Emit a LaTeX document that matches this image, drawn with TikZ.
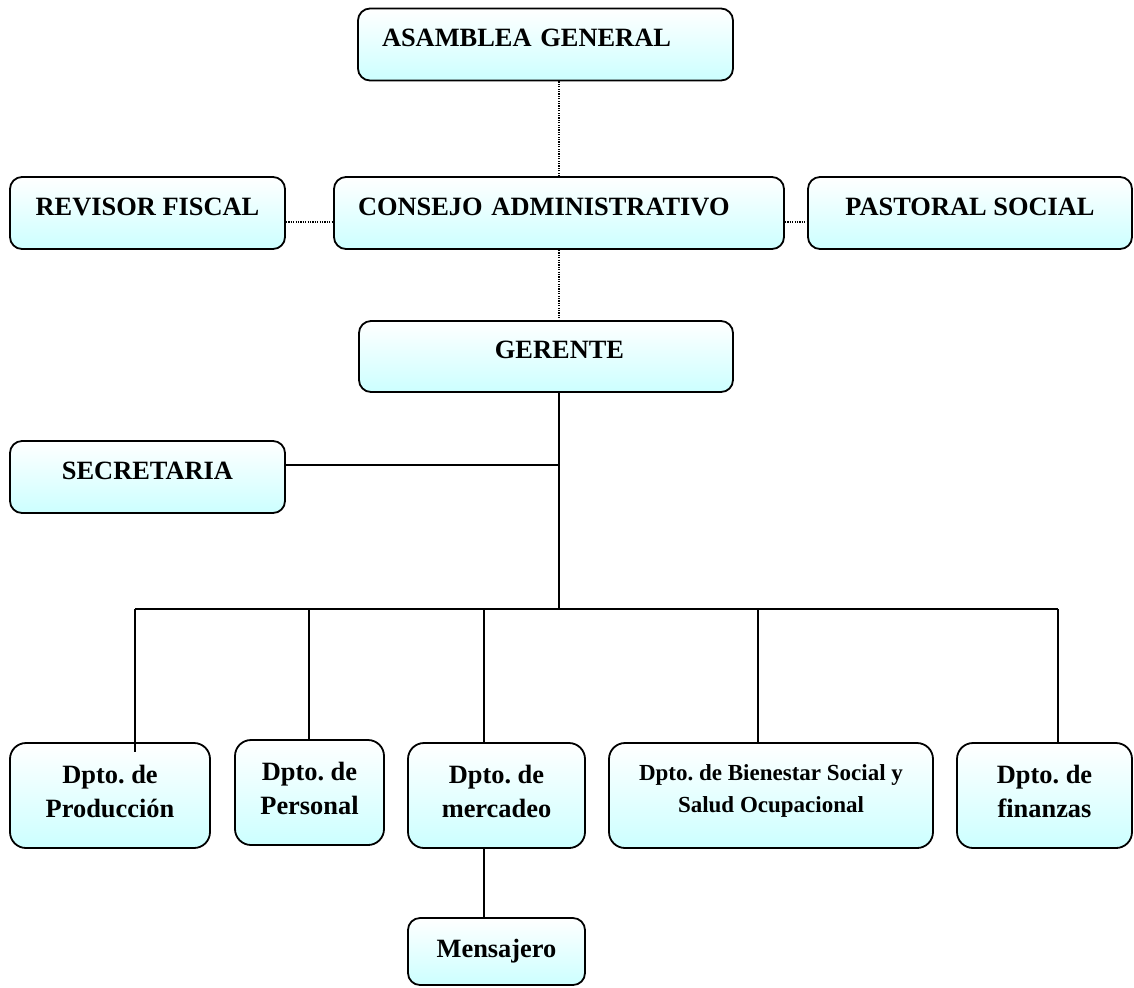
\documentclass[tikz,border=0pt]{standalone}
\usepackage{fontspec}
\setmainfont{Liberation Serif}
\usepackage{tikz}
\usepackage{xcolor}
\definecolor{boxcyan}{RGB}{204,255,255}
\def\busy{609}
\frenchspacing

\begin{document}
\begin{tikzpicture}[x=0.5pt,y=-0.5pt,line width=0.75pt]
    \tikzstyle{box}=[draw=black,line width=0.9pt,rounded corners=6pt,top color=white,bottom color=boxcyan,inner sep=0pt,align=center,font=\bfseries\fontsize{13.2pt}{17pt}\selectfont]
    \tikzstyle{title box}=[box,minimum height=36pt,text depth=6.5pt]
    \tikzstyle{dept box}=[box,rounded corners=8pt,minimum height=52.5pt,text depth=4.5pt]
    \tikzstyle{dots}=[dash pattern=on 0.6pt off 0.6pt]

    \useasboundingbox (0,0) rectangle (1134,987);

    % Draw the board and the top boxes
    \node[title box,minimum width=187.5pt,text width=163.5pt,align=left] (asm) at (545.5,44.5) {ASAMBLEA GENERAL};
    \node[title box,minimum width=225pt,text width=201pt,align=left] (con) at (559,213) {CONSEJO ADMINISTRATIVO};
    \node[title box,minimum width=137.5pt] (rev) at (147.5,213) {REVISOR FISCAL};
    \node[title box,minimum width=162pt] (pas) at (970,213) {PASTORAL SOCIAL};
    \node[title box,minimum width=187pt,minimum height=35.5pt] (ger) at (546,356.5) {\hspace*{13.5pt}GERENTE};
    \node[title box,minimum width=137.5pt] (sec) at (147.5,477) {SECRETARIA};

    % Draw the departments
    \node[dept box,minimum width=100pt] (pro) at (110,795.5) {Dpto. de\\Producción};
    \node[dept box,minimum width=74.5pt] (per) at (309.5,792.5) {Dpto. de\\Personal};
    \node[dept box,minimum width=88.5pt] (mer) at (496.5,795.5) {Dpto. de\\mercadeo};
    \node[dept box,minimum width=162pt,font=\bfseries\fontsize{11.5pt}{16.5pt}\selectfont,text depth=7pt] (bie) at (771,795.5) {Dpto. de Bienestar Social y\\Salud Ocupacional};
    \node[dept box,minimum width=87.5pt] (fin) at (1044.5,795.5) {Dpto. de\\finanzas};
    \node[title box,minimum width=88.5pt,minimum height=33.5pt,text depth=3pt] (men) at (496.5,951.5) {Mensajero};

    % Dotted links around the board
    \draw[dots] (con.north) -- (con.north |- asm.south);
    \draw[dots] (con.south) -- (con.south |- ger.north);
    \draw[dots] ([yshift=-4.5pt]rev.east) -- ([yshift=-4.5pt]con.west);
    \draw[dots] ([yshift=-4.5pt]con.east) -- ([yshift=-4.5pt]pas.west);

    % Connect the manager with the secretary and the bus
    \coordinate (trunk) at (559,\busy);
    \draw (trunk |- ger.south) -- (trunk);
    \draw ([yshift=6pt]sec.east) -- ([yshift=6pt]sec.east -| trunk);

    % Connect the bus with every department
    \foreach \name/\x in {pro/135,per/309,mer/484,bie/758,fin/1058}
        \coordinate (d-\name) at (\x,\busy);
    \draw[line width=1.2pt] (d-pro) -- (d-fin);
    \foreach \name/\over in {pro/5,per/0,mer/0,bie/0,fin/0}
        \draw (d-\name) -- ([yshift=-\over pt]d-\name |- \name.north);

    \draw (mer.south -| d-mer) -- (men.north -| d-mer);
\end{tikzpicture}
\end{document}
